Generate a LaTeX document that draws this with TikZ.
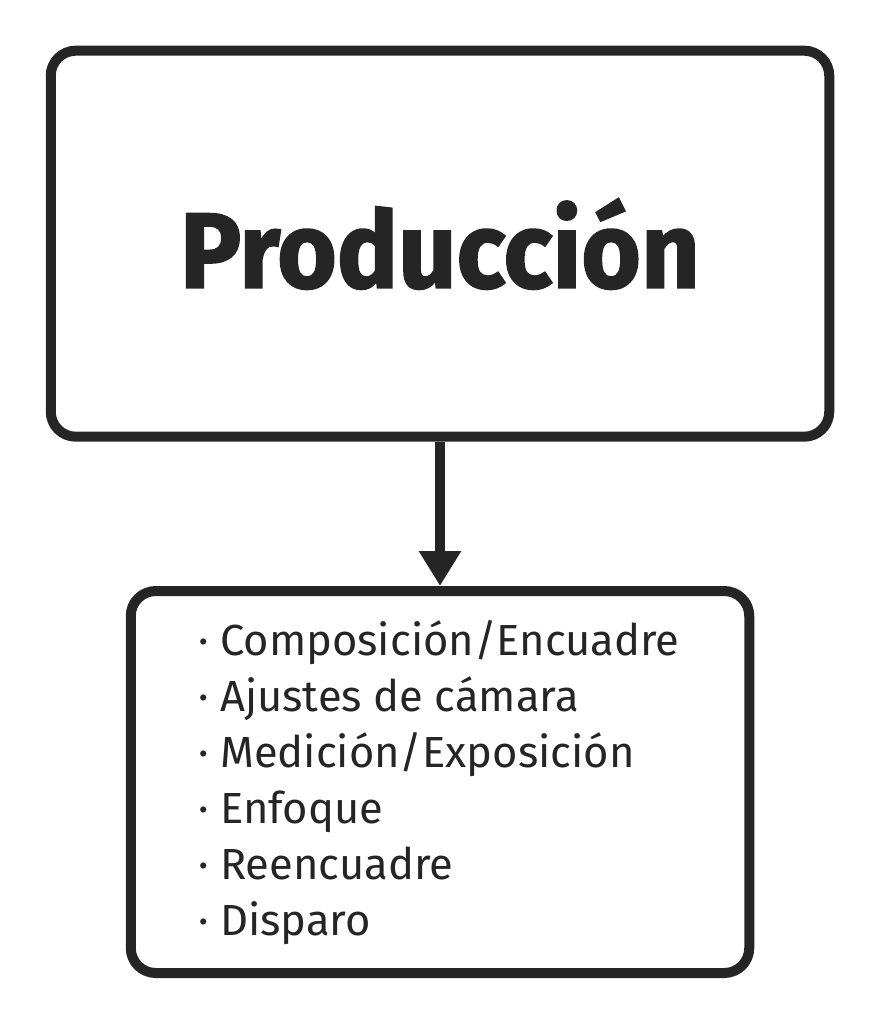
\documentclass[tikz,border=0pt]{standalone}
\usepackage{fontspec}
\usetikzlibrary{arrows.meta}
\newfontfamily\heavyfont{Fira Sans}[BoldFeatures={FakeBold=1.5,FakeStretch=0.955}]
\newfontfamily\lightfont{Fira Sans}
\definecolor{ink}{HTML}{252525}
\tikzset{
  box/.style={draw=ink, line width=10pt, rounded corners=25pt, fill=white, inner sep=0pt},
  titletext/.style={font=\heavyfont\bfseries\fontsize{107}{120}\selectfont, text=ink, inner sep=0pt, anchor=base},
  itemtext/.style={font=\lightfont\fontsize{43.5}{56}\selectfont, text=ink, inner sep=0pt, anchor=base west},
  conn/.style={draw=ink, line width=10pt, -{Triangle[length=35pt,width=40pt]}, shorten >=0pt}
}
\begin{document}
\begin{tikzpicture}[x=1pt,y=-1pt]
\useasboundingbox (0,0) rectangle (881,1024);
\node[box, minimum width=778.5pt, minimum height=386pt] (top) at (440,243.7) {};
\node[titletext] (title) at (440,287.7) {Producción};
\node[box, minimum width=618.5pt, minimum height=382pt] (bot) at (440,782) {};
\node[itemtext] (i1) at (198,655) {· Composición/Encuadre};
\node[itemtext] (i2) at (198,711) {· Ajustes de cámara};
\node[itemtext] (i3) at (198,767) {· Medición/Exposición};
\node[itemtext] (i4) at (198,823) {· Enfoque};
\node[itemtext] (i5) at (198,879) {· Reencuadre};
\node[itemtext] (i6) at (198,935) {· Disparo};
\draw[conn] (top.south) -- (bot.north);
\end{tikzpicture}
\end{document}
